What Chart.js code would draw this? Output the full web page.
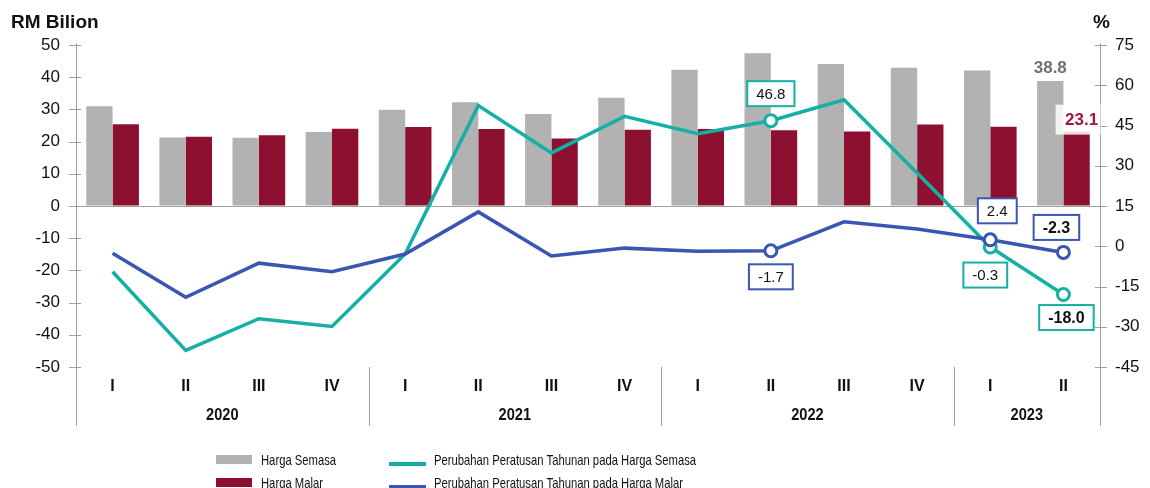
<!DOCTYPE html>
<html>
<head>
<meta charset="utf-8">
<script src="https://cdn.jsdelivr.net/npm/chart.js@4/dist/chart.umd.min.js"></script>
<style>
  body { margin: 0; background: #fff; }
  #wrap { width: 1150px; height: 488px; }
</style>
</head>
<body>
<div id="wrap"><canvas id="chart" width="1150" height="488"></canvas></div>
<script>
// Data
const quarters = ["I", "II", "III", "IV", "I", "II", "III", "IV", "I", "II", "III", "IV", "I", "II"];
const years = ["2020", "2021", "2022", "2023"];
const quartersPerYear = [4, 4, 4, 2];

// RM bilion (left axis)
const hargaSemasa = [31.0, 21.3, 21.2, 23.0, 29.9, 32.2, 28.6, 33.6, 42.3, 47.4, 44.1, 42.9, 42.1, 38.8];
const hargaMalar = [25.4, 21.5, 22.0, 24.0, 24.5, 23.9, 21.0, 23.7, 23.9, 23.5, 23.1, 25.3, 24.6, 23.1];

// % (right axis)
const pctSemasa = [-9.5, -38.8, -27.0, -29.9, -2.9, 52.4, 34.8, 48.4, 41.9, 46.8, 54.6, 27.3, -0.3, -18.0];
const pctMalar = [-2.6, -19.0, -6.3, -9.5, -2.9, 12.8, -3.6, -0.7, -1.9, -1.7, 9.1, 6.4, 2.4, -2.3];

// points that carry a value box
const markedPoints = [9, 12, 13];

const FONT = "'Liberation Sans', Arial, sans-serif";
const GRAY = "#b2b2b2";
const RED = "#8e1030";
const TEAL = "#15b0a5";
const BLUE = "#3a56b2";
const AXIS = "#a0a0a0";

const radiusFor = (arr) => arr.map((v, i) => (markedPoints.includes(i) ? 6 : 0));

// condensed text (no narrow font installed, so squeeze it)
function narrowText(ctx, text, x, y, squeeze) {
  ctx.save();
  ctx.translate(x, y);
  ctx.scale(squeeze, 1);
  ctx.fillText(text, 0, 0);
  ctx.restore();
}

// axes, ticks, year groups
const framePlugin = {
  id: "frame",
  afterDraw(chart) {
    const ctx = chart.ctx;
    const area = chart.chartArea;
    const x = chart.scales.x;
    const yL = chart.scales.y;
    const yR = chart.scales.y1;
    const bottom = 426;

    ctx.save();
    ctx.strokeStyle = AXIS;
    ctx.lineWidth = 1;
    // axis lines
    ctx.beginPath();
    ctx.moveTo(area.left + 0.5, area.top - 2);
    ctx.lineTo(area.left + 0.5, bottom);
    ctx.moveTo(area.right + 0.5, area.top - 2);
    ctx.lineTo(area.right + 0.5, bottom);
    // tick marks crossing the axes
    yL.ticks.forEach((t) => {
      const py = Math.round(yL.getPixelForValue(t.value)) + 0.5;
      ctx.moveTo(area.left - 7, py);
      ctx.lineTo(area.left + 5, py);
    });
    yR.ticks.forEach((t) => {
      const py = Math.round(yR.getPixelForValue(t.value)) + 0.5;
      ctx.moveTo(area.right - 5, py);
      ctx.lineTo(area.right + 7, py);
    });
    ctx.stroke();

    // year separators and labels
    ctx.fillStyle = "#111";
    ctx.font = "bold 17px " + FONT;
    ctx.textAlign = "center";
    ctx.textBaseline = "middle";
    let start = 0;
    years.forEach((yr, k) => {
      const end = start + quartersPerYear[k] - 1;
      const cx = (x.getPixelForValue(start) + x.getPixelForValue(end)) / 2;
      narrowText(ctx, yr, cx, 415, 0.86);
      if (k < years.length - 1) {
        const sx = Math.round((x.getPixelForValue(end) + x.getPixelForValue(end + 1)) / 2) + 0.5;
        ctx.beginPath();
        ctx.moveTo(sx, area.bottom);
        ctx.lineTo(sx, bottom);
        ctx.stroke();
      }
      start = end + 1;
    });

    // axis titles
    ctx.textAlign = "left";
    ctx.textBaseline = "alphabetic";
    ctx.font = "bold 19px " + FONT;
    ctx.fillStyle = "#111";
    ctx.fillText("RM Bilion", 11, 28);
    ctx.fillText("%", 1093, 28);
    ctx.restore();
  },
};

// value boxes and bar labels
const labelPlugin = {
  id: "valueLabels",
  afterDraw(chart) {
    const ctx = chart.ctx;
    ctx.save();
    ctx.textAlign = "center";
    ctx.textBaseline = "middle";

    const box = (text, px, py, color, bold) => {
      ctx.font = (bold ? "bold 16px " : "15px ") + FONT;
      const w = ctx.measureText(text).width + 18;
      const h = 25;
      ctx.fillStyle = "#fff";
      ctx.fillRect(px - w / 2, py - h / 2, w, h);
      ctx.strokeStyle = color;
      ctx.lineWidth = 2;
      ctx.strokeRect(px - w / 2, py - h / 2, w, h);
      ctx.fillStyle = "#111";
      ctx.fillText(text, px, py + 1);
    };

    // offsets of each box from its point
    const semasaBoxes = { 9: [0, -27, false], 12: [-5, 28, false], 13: [3, 23, true] };
    const malarBoxes = { 9: [0, 26, false], 12: [7, -29, false], 13: [-7, -25, true] };

    const mS = chart.getDatasetMeta(2);
    const mM = chart.getDatasetMeta(3);
    markedPoints.forEach((i) => {
      const s = semasaBoxes[i];
      box(pctSemasa[i].toFixed(1), mS.data[i].x + s[0], mS.data[i].y + s[1], TEAL, s[2]);
      const m = malarBoxes[i];
      box(pctMalar[i].toFixed(1), mM.data[i].x + m[0], mM.data[i].y + m[1], BLUE, m[2]);
    });

    // last bars
    const last = quarters.length - 1;
    const gBar = chart.getDatasetMeta(0).data[last];
    const rBar = chart.getDatasetMeta(1).data[last];
    ctx.font = "bold 17px " + FONT;
    ctx.fillStyle = "#707070";
    ctx.fillText(hargaSemasa[last].toFixed(1), gBar.x, gBar.y - 13);

    ctx.fillStyle = "rgba(255,255,255,0.85)";
    ctx.fillRect(rBar.x - 21, rBar.y - 27, 45, 30);
    ctx.fillStyle = "#a0173f";
    ctx.fillText(hargaMalar[last].toFixed(1), rBar.x + 5, rBar.y - 11);
    ctx.restore();
  },
};

// legend in two columns
const legendPlugin = {
  id: "twoColLegend",
  afterDraw(chart) {
    const ctx = chart.ctx;
    const cols = [216, 389];
    const rows = [460, 483];
    const textX = [261, 434];
    ctx.save();
    ctx.font = "15px " + FONT;
    ctx.textAlign = "left";
    ctx.textBaseline = "middle";
    chart.data.datasets.forEach((ds, k) => {
      const c = k < 2 ? 0 : 1;
      const r = k % 2;
      ctx.fillStyle = ds.type === "line" ? ds.borderColor : ds.backgroundColor;
      if (ds.type === "line") {
        ctx.fillRect(cols[c], rows[r] + 2, 37, 4);
      } else {
        ctx.fillRect(cols[c], rows[r] - 5, 36, 9);
      }
      ctx.fillStyle = "#111";
      narrowText(ctx, ds.label, textX[c], rows[r] + 1, 0.75);
    });
    ctx.restore();
  },
};

const chart = new Chart(document.getElementById("chart").getContext("2d"), {
  data: {
    labels: quarters,
    datasets: [
      {
        type: "bar",
        label: "Harga Semasa",
        data: hargaSemasa,
        backgroundColor: GRAY,
        yAxisID: "y",
        order: 3,
        barPercentage: 1,
        categoryPercentage: 0.72,
      },
      {
        type: "bar",
        label: "Harga Malar",
        data: hargaMalar,
        backgroundColor: RED,
        yAxisID: "y",
        order: 3,
        barPercentage: 1,
        categoryPercentage: 0.72,
      },
      {
        type: "line",
        label: "Perubahan Peratusan Tahunan pada Harga Semasa",
        data: pctSemasa,
        borderColor: TEAL,
        borderWidth: 3.5,
        pointRadius: radiusFor(pctSemasa),
        pointBorderWidth: 3,
        pointBackgroundColor: "#fff",
        pointBorderColor: TEAL,
        tension: 0,
        yAxisID: "y1",
        order: 2,
      },
      {
        type: "line",
        label: "Perubahan Peratusan Tahunan pada Harga Malar",
        data: pctMalar,
        borderColor: BLUE,
        borderWidth: 3.5,
        pointRadius: radiusFor(pctMalar),
        pointBorderWidth: 3,
        pointBackgroundColor: "#fff",
        pointBorderColor: BLUE,
        tension: 0,
        yAxisID: "y1",
        order: 1,
      },
    ],
  },
  options: {
    responsive: false,
    animation: false,
    layout: { padding: { top: 45, left: 0, right: 0, bottom: 0 } },
    plugins: {
      legend: { display: false },
      tooltip: { enabled: false },
    },
    scales: {
      x: {
        type: "category",
        offset: true,
        grid: { display: false, drawTicks: false },
        border: { display: false },
        ticks: {
          color: "#111",
          font: { family: FONT, size: 16, weight: "bold" },
          padding: 10,
          maxRotation: 0,
          autoSkip: false,
        },
        afterFit: (s) => { s.height = 121; },
      },
      y: {
        position: "left",
        min: -50,
        max: 50,
        border: { display: false },
        grid: {
          drawTicks: false,
          color: (c) => (c.tick && c.tick.value === 0 ? AXIS : "transparent"),
        },
        ticks: {
          stepSize: 10,
          color: "#111",
          padding: 16,
          font: { family: FONT, size: 17 },
        },
        afterFit: (s) => { s.width = 76; },
      },
      y1: {
        position: "right",
        min: -45,
        max: 75,
        border: { display: false },
        grid: { display: false, drawTicks: false },
        ticks: {
          stepSize: 15,
          color: "#111",
          padding: 15,
          font: { family: FONT, size: 17 },
        },
        afterFit: (s) => { s.width = 50; },
      },
    },
  },
  plugins: [framePlugin, labelPlugin, legendPlugin],
});
</script>
</body>
</html>
